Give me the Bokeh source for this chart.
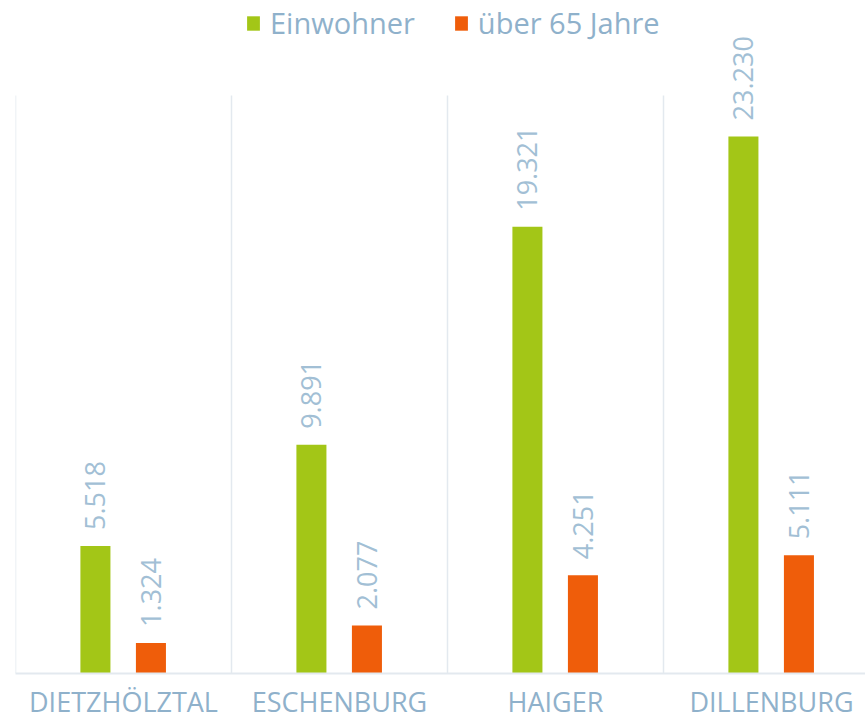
from bokeh.plotting import figure
from bokeh.models import (ColumnDataSource, Range1d, FixedTicker, Legend, LegendItem)
from bokeh.transform import dodge
from bokeh.core.properties import value
from bokeh.embed import file_html
from bokeh.resources import INLINE

categories = ["DIETZHÖLZTAL", "ESCHENBURG", "HAIGER", "DILLENBURG"]
einwohner = [5518, 9891, 19321, 23230]
ueber65 = [1324, 2077, 4251, 5111]
series_names = ["Einwohner", "über 65 Jahre"]
y_axis_max = 25000

GREEN = "#A3C617"
ORANGE = "#EF5D0A"
TEXT = "#8FB1CB"
LABEL = "#A2BFD5"
GRID = "#E3E9EF"
FONT = "Open Sans"

centers = [i + 0.5 for i in range(len(categories))]
bounds = list(range(len(categories) + 1))

def fmt(v):
    return f"{v:,}".replace(",", ".")

src = ColumnDataSource(dict(
    x=centers,
    cat=categories,
    ew=einwohner,
    u65=ueber65,
    ew_lbl=[fmt(v) for v in einwohner],
    u65_lbl=[fmt(v) for v in ueber65],
))

# frame: 673 px tall, value axis 0..25000 occupies the lower 578 px
p = figure(frame_width=850, frame_height=673, output_backend="svg",
           toolbar_location=None,
           x_range=Range1d(0, 850 / 216),
           y_range=Range1d(0, y_axis_max * 673 / 578),
           min_border_left=15, min_border_right=0, min_border_top=0,
           min_border_bottom=0)
p.background_fill_color = "white"
p.border_fill_color = "white"
p.outline_line_color = None

# category separators (vertical grid lines up to the value-axis maximum)
p.segment(x0=bounds, x1=bounds, y0=[0] * len(bounds), y1=[y_axis_max] * len(bounds),
          line_color=GRID, line_width=1.5)

g = p.vbar(x=dodge("x", -0.13), top="ew", width=0.139, source=src,
           fill_color=GREEN, line_color=None)
o = p.vbar(x=dodge("x", 0.127), top="u65", width=0.139, source=src,
           fill_color=ORANGE, line_color=None)

common = dict(angle=1.5708, text_align="left", text_baseline="middle",
              text_font=value(FONT), text_font_size="27px", text_color=LABEL,
              y_offset=-16, source=src)
p.text(x=dodge("x", -0.13), y="ew", text="ew_lbl", **common)
p.text(x=dodge("x", 0.127), y="u65", text="u65_lbl", **common)

p.yaxis.visible = False
p.ygrid.visible = False
p.xgrid.visible = False

ax = p.xaxis[0]
ax.ticker = FixedTicker(ticks=centers)
ax.major_label_overrides = {c: n for c, n in zip(centers, categories)}
ax.major_tick_line_color = None
ax.minor_tick_line_color = None
ax.axis_line_color = GRID
ax.axis_line_width = 2
ax.major_label_text_font = FONT
ax.major_label_text_font_size = "27px"
ax.major_label_text_color = TEXT
ax.major_label_standoff = 3

legend = Legend(items=[LegendItem(label=series_names[0], renderers=[g]),
                       LegendItem(label=series_names[1], renderers=[o])],
                orientation="horizontal", location=(230, 631),
                label_text_font=FONT, label_text_font_size="29px",
                label_text_color=TEXT, glyph_width=16, glyph_height=18,
                label_standoff=9, spacing=38, padding=4, margin=0,
                border_line_color=None, background_fill_alpha=0)
p.add_layout(legend)

open("out.html", "w").write(file_html(p, INLINE))
